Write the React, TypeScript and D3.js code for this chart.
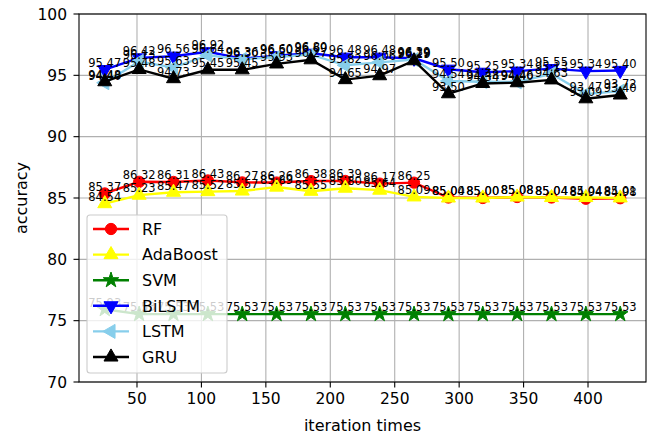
import React from "react";
import * as d3 from "d3";

const iterations = [25, 51.67, 78.33, 105, 131.67, 158.33, 185, 211.67, 238.33, 265, 291.67, 318.33, 345, 371.67, 398.33, 425];
const rfValues = [85.37, 86.32, 86.31, 86.43, 86.27, 86.26, 86.38, 86.39, 86.17, 86.25, 85.04, 85.0, 85.08, 85.04, 84.94, 84.98];
const adaValues = [84.54, 85.23, 85.47, 85.52, 85.57, 85.89, 85.55, 85.8, 85.64, 85.09, 85.0, 85.0, 85.08, 85.04, 85.04, 85.01];
const svmValues = [75.93, 75.53, 75.53, 75.53, 75.53, 75.53, 75.53, 75.53, 75.53, 75.53, 75.53, 75.53, 75.53, 75.53, 75.53, 75.53];
const bilstmValues = [95.47, 96.42, 96.56, 96.92, 96.36, 96.6, 96.8, 96.48, 96.48, 96.39, 95.5, 95.25, 95.34, 95.55, 95.34, 95.4];
const lstmValues = [94.4, 96.13, 95.63, 96.64, 96.3, 96.5, 96.69, 95.82, 96.06, 96.29, 94.54, 94.48, 94.46, 95.13, 93.47, 93.72];
const gruValues = [94.48, 95.48, 94.73, 95.45, 95.45, 95.93, 96.27, 94.65, 94.97, 96.19, 93.5, 94.34, 94.4, 94.63, 93.09, 93.4];

const xTicks = [50, 100, 150, 200, 250, 300, 350, 400];
const yTicks = [70, 75, 80, 85, 90, 95, 100];

const seriesNames = ["RF", "AdaBoost", "SVM", "BiLSTM", "LSTM", "GRU"];
const seriesColors = ["#ff0000", "#ffff00", "#008000", "#0000ff", "#87ceeb", "#000000"];
const seriesMarkers = ["circle", "up", "star", "down", "left", "up"];

const W = 653;
const H = 437;
const M = { left: 79, right: 646, top: 14, bottom: 382 };
const FONT = "DejaVu Sans, sans-serif";

function markerPath(kind: string): { d: string; rot: number } {
  if (kind === "circle") return { d: d3.symbol().type(d3.symbolCircle).size(100)() as string, rot: 0 };
  if (kind === "star") return { d: d3.symbol().type(d3.symbolStar).size(75)() as string, rot: 0 };
  const d = d3.symbol().type(d3.symbolTriangle).size(85)() as string;
  if (kind === "down") return { d, rot: 180 };
  if (kind === "left") return { d, rot: -90 };
  return { d, rot: 0 };
}

export default function App() {
  const x = d3.scaleLinear().domain([5, 445]).range([M.left, M.right]);
  const y = d3.scaleLinear().domain([70, 100]).range([M.bottom, M.top]);
  const allValues = [rfValues, adaValues, svmValues, bilstmValues, lstmValues, gruValues];
  const line = d3
    .line<number>()
    .x((_, i) => x(iterations[i]))
    .y((v) => y(v));
  const fmt = d3.format(".2f");

  const legendX = 87;
  const legendY = 215;
  const legendW = 140;
  const legendH = 158;
  const rowY = (i: number) => 229 + i * 25.6;

  return (
    <svg width={W} height={H} style={{ position: "absolute", left: 0, top: 0, background: "#fff" }} fontFamily={FONT}>
      {xTicks.map((t) => (
        <line key={"gx" + t} x1={x(t)} x2={x(t)} y1={M.top} y2={M.bottom} stroke="#b0b0b0" strokeWidth={1.1} />
      ))}
      {yTicks.map((t) => (
        <line key={"gy" + t} x1={M.left} x2={M.right} y1={y(t)} y2={y(t)} stroke="#b0b0b0" strokeWidth={1.1} />
      ))}
      {allValues.map((vals, si) => {
        const mk = markerPath(seriesMarkers[si]);
        return (
          <g key={"s" + si}>
            <path d={line(vals) as string} fill="none" stroke={seriesColors[si]} strokeWidth={2.4} />
            {vals.map((v, i) => (
              <path
                key={i}
                d={mk.d}
                transform={`translate(${x(iterations[i])},${y(v)}) rotate(${mk.rot})`}
                fill={seriesColors[si]}
                stroke={seriesColors[si]}
                strokeWidth={1}
              />
            ))}
          </g>
        );
      })}
      {allValues.map((vals, si) => (
        <g key={"t" + si}>
          {vals.map((v, i) => (
            <text key={i} x={x(iterations[i])} y={y(v) - 2.7} fontSize={11.5} textAnchor="middle" fill="#000">
              {fmt(v)}
            </text>
          ))}
        </g>
      ))}
      <rect x={M.left} y={M.top} width={M.right - M.left} height={M.bottom - M.top} fill="none" stroke="#000" strokeWidth={1.1} />
      {xTicks.map((t) => (
        <g key={"xt" + t}>
          <line x1={x(t)} x2={x(t)} y1={M.bottom} y2={M.bottom + 5.5} stroke="#000" strokeWidth={1.1} />
          <text x={x(t)} y={M.bottom + 22} fontSize={15.5} textAnchor="middle" fill="#000">
            {t}
          </text>
        </g>
      ))}
      {yTicks.map((t) => (
        <g key={"yt" + t}>
          <line x1={M.left - 5.5} x2={M.left} y1={y(t)} y2={y(t)} stroke="#000" strokeWidth={1.1} />
          <text x={M.left - 12} y={y(t)} dy="0.36em" fontSize={15.5} textAnchor="end" fill="#000">
            {t}
          </text>
        </g>
      ))}
      <text x={(M.left + M.right) / 2} y={431} fontSize={16} textAnchor="middle" fill="#000">
        iteration times
      </text>
      <text transform={`translate(27,${(M.top + M.bottom) / 2}) rotate(-90)`} fontSize={16} textAnchor="middle" fill="#000">
        accuracy
      </text>
      <rect x={legendX} y={legendY} width={legendW} height={legendH} rx={3} fill="#ffffff" fillOpacity={0.8} stroke="#cccccc" strokeWidth={1.1} />
      {seriesNames.map((name, i) => {
        const mk = markerPath(seriesMarkers[i]);
        const ry = rowY(i);
        return (
          <g key={"lg" + i}>
            <line x1={93} x2={129} y1={ry} y2={ry} stroke={seriesColors[i]} strokeWidth={2.4} />
            <path d={mk.d} transform={`translate(111,${ry}) rotate(${mk.rot})`} fill={seriesColors[i]} stroke={seriesColors[i]} strokeWidth={1} />
            <text x={142} y={ry} dy="0.36em" fontSize={16} fill="#000">
              {name}
            </text>
          </g>
        );
      })}
    </svg>
  );
}
